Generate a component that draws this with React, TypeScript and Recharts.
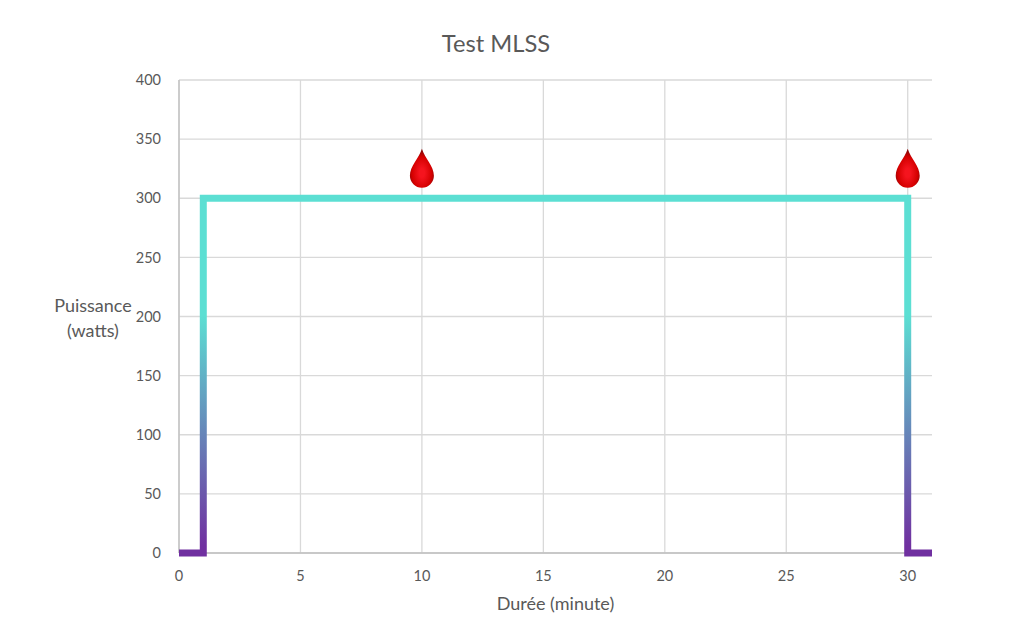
import { ComposedChart, Line, Scatter, XAxis, YAxis, CartesianGrid, Label } from 'recharts';

const powerSteps = [
  { minute: 0, watts: 0 },
  { minute: 1, watts: 0 },
  { minute: 1, watts: 300 },
  { minute: 30, watts: 300 },
  { minute: 30, watts: 0 },
  { minute: 31, watts: 0 },
];
const lactateSamples = [
  { minute: 10, watts: 325 },
  { minute: 30, watts: 325 },
];
const xTicks = [0, 5, 10, 15, 20, 25, 30];
const yTicks = [0, 50, 100, 150, 200, 250, 300, 350, 400];

const FONT = 'Lato, "Open Sans", sans-serif';
const TEXT = '#595959';

// blood drop, drawn around the point the scale gives us
const BloodDrop = ({ cx, cy }: any) => (
  <path
    transform={`translate(${cx},${cy})`}
    d="M0 -20 C3 -10 12 -3 12 7 A12 12 0 0 1 -12 7 C-12 -3 -3 -10 0 -20 Z"
    fill="url(#dropFill)"
  />
);

const YTitle = ({ viewBox }: any) => {
  const x = viewBox.x + 93;
  return (
    <text x={x} textAnchor="middle" fontFamily={FONT} fontSize={18} fill={TEXT}>
      <tspan x={x} y={312}>Puissance</tspan>
      <tspan x={x} y={337}>(watts)</tspan>
    </text>
  );
};

export default function App() {
  return (
    <div style={{ position: 'absolute', left: 0, top: 0, width: 1024, height: 644, background: '#fff' }}>
      <div
        style={{
          position: 'absolute', left: 0, top: 29, width: 992, textAlign: 'center',
          fontFamily: FONT, fontSize: 23.7, color: TEXT, lineHeight: '28px',
        }}
      >
        Test MLSS
      </div>
      <ComposedChart
        width={1024}
        height={644}
        margin={{ top: 80, right: 92, bottom: 0, left: 0 }}
      >
        <defs>
          <linearGradient id="powerStroke" x1="0" y1="0" x2="0" y2="1">
            <stop offset="0.33" stopColor="#5cdfd3" />
            <stop offset="0.98" stopColor="#7030a0" />
          </linearGradient>
          <radialGradient id="dropFill" cx="0.5" cy="0.62" r="0.55">
            <stop offset="0.2" stopColor="#f5141e" />
            <stop offset="0.75" stopColor="#d40000" />
            <stop offset="1" stopColor="#8f0808" />
          </radialGradient>
        </defs>
        <CartesianGrid stroke="#d9d9d9" strokeWidth={1.3} horizontalValues={yTicks} verticalValues={xTicks} />
        {/* axis lines as grid lines so the series sits on top of them */}
        <CartesianGrid stroke="#bfbfbf" strokeWidth={1.3} horizontalValues={[0]} verticalValues={[0]} />
        <XAxis
          type="number"
          dataKey="minute"
          domain={[0, 31]}
          ticks={xTicks}
          height={91}
          interval={0}
          tickLine={false}
          tickMargin={12}
          axisLine={false}
          tick={{ fill: TEXT, fontSize: 14.5, fontFamily: FONT }}
        >
          <Label
            value="Durée (minute)"
            position="insideTop"
            offset={44}
            fill={TEXT}
            fontSize={18}
            fontFamily={FONT}
          />
        </XAxis>
        <YAxis
          type="number"
          dataKey="watts"
          domain={[0, 400]}
          ticks={yTicks}
          width={179}
          interval={0}
          tickLine={false}
          tickMargin={12}
          axisLine={false}
          tick={{ fill: TEXT, fontSize: 14.5, fontFamily: FONT }}
        >
          <Label content={<YTitle />} />
        </YAxis>
        <Line
          data={powerSteps}
          dataKey="watts"
          type="linear"
          stroke="url(#powerStroke)"
          strokeWidth={7}
          strokeLinejoin="miter"
          dot={false}
          activeDot={false}
          legendType="none"
          isAnimationActive={false}
        />
        <Scatter
          data={lactateSamples}
          dataKey="watts"
          shape={<BloodDrop />}
          isAnimationActive={false}
        />
      </ComposedChart>
    </div>
  );
}
